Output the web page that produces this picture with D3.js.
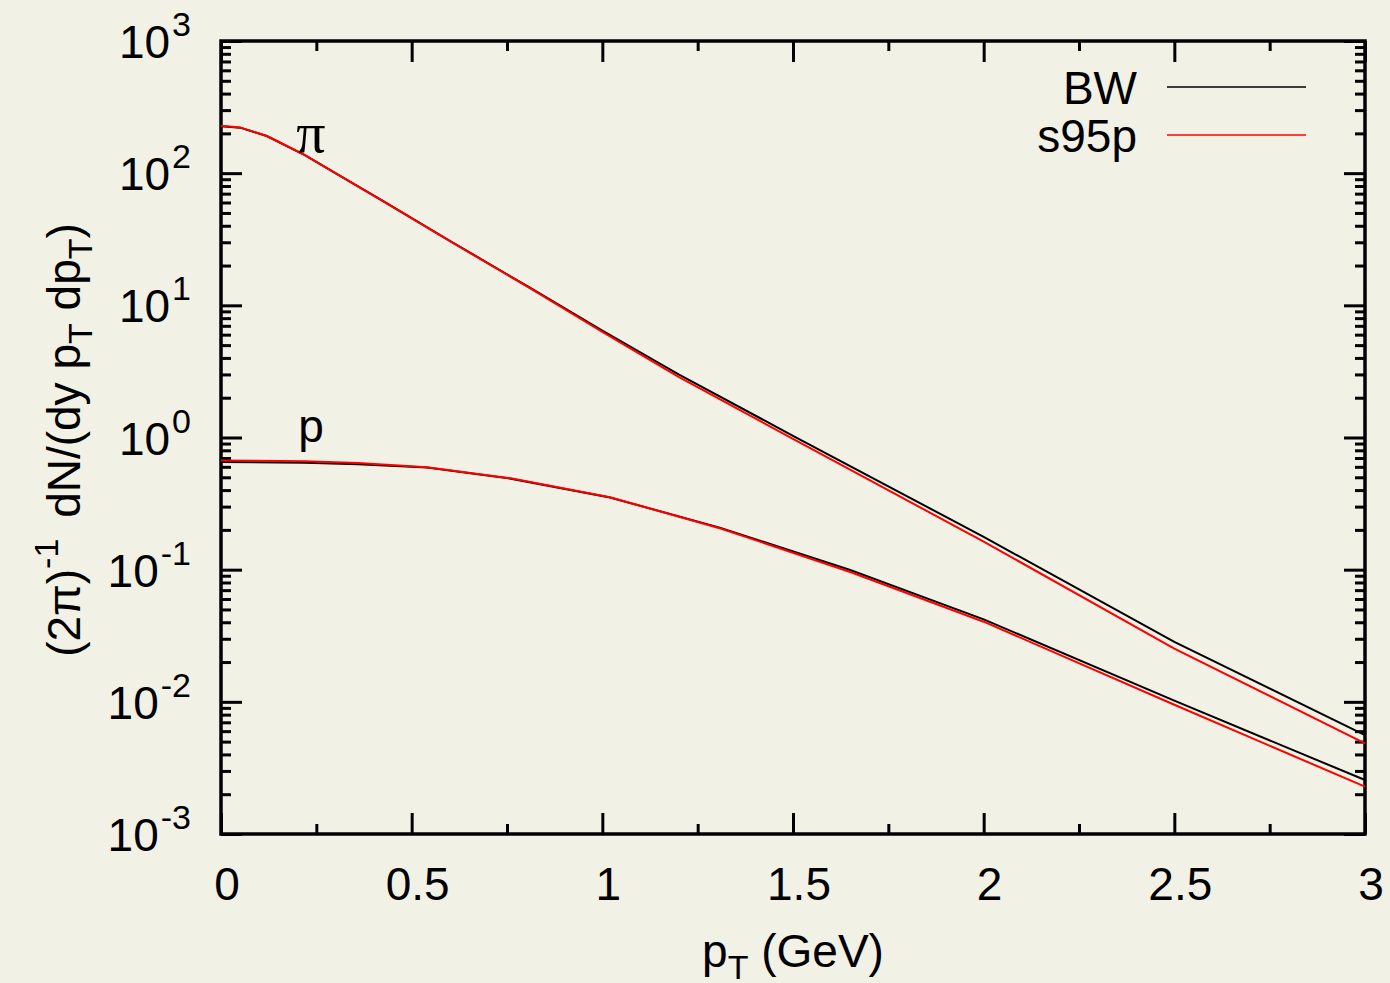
<!DOCTYPE html>
<html>
<head>
<meta charset="utf-8">
<script src="https://cdn.jsdelivr.net/npm/d3@7"></script>
<style>
  html, body { margin: 0; padding: 0; background: #f2f1e6; }
  svg { display: block; }
  text { font-family: "Liberation Sans", Arial, Helvetica, sans-serif; fill: #000; }
</style>
</head>
<body>
<svg id="chart" width="1390" height="983"></svg>
<script>
// Transverse-momentum spectra, pions and protons, two models
const pionPt   = [0, 0.05, 0.12, 0.22, 0.3, 0.42, 0.6, 0.81, 1.0, 1.2, 1.5, 2.0, 2.5, 3.0];
const pionBW   = [226, 221, 191, 137, 100, 62.7, 30.8, 13.6, 6.45, 3.0, 1.03, 0.177, 0.0284, 0.0056];
const pionS95p = [228, 222, 191, 137, 100, 62.5, 30.6, 13.5, 6.3, 2.88, 0.976, 0.163, 0.0253, 0.00485];

const protonPt   = [0, 0.22, 0.36, 0.54, 0.76, 1.02, 1.31, 1.65, 2.0, 2.5, 3.0];
const protonBW   = [0.653, 0.645, 0.628, 0.593, 0.488, 0.352, 0.207, 0.0995, 0.0421, 0.0102, 0.00256];
const protonS95p = [0.67, 0.662, 0.64, 0.596, 0.491, 0.353, 0.205, 0.096, 0.0404, 0.0095, 0.00228];

const xTicks = [0, 0.5, 1, 1.5, 2, 2.5, 3];
const xTickLabels = ["0", "0.5", "1", "1.5", "2", "2.5", "3"];
const yExponents = [-3, -2, -1, 0, 1, 2, 3];

const seriesNames = ["BW", "s95p"];
const seriesColors = ["#000000", "#ff0000"];

const svg = d3.select("#chart");
const plotL = 221, plotR = 1365, plotT = 41, plotB = 834;
const fontMain = 46, fontSmall = 34;

const x = d3.scaleLinear().domain([0, 3]).range([plotL, plotR]);
const y = d3.scaleLog().domain([1e-3, 1e3]).range([plotB, plotT]);

// minor tick positions
const xMinor = d3.range(0.25, 3, 0.5);
const yMinor = [];
for (let e = -3; e < 3; e++) for (let k = 2; k <= 9; k++) yMinor.push(k * Math.pow(10, e));
const yMajor = yExponents.map(e => Math.pow(10, e));

function tickAxis(axis, vals, len) {
  return axis.tickValues(vals).tickSize(len).tickSizeOuter(0).tickFormat("");
}
function styleAxis(g) {
  g.select(".domain").remove();
  g.selectAll(".tick line").attr("stroke", "#000").attr("stroke-width", 3);
}

// inward ticks on all four sides
svg.append("g").attr("transform", `translate(0,${plotB})`).call(tickAxis(d3.axisBottom(x), xTicks, -21)).call(styleAxis);
svg.append("g").attr("transform", `translate(0,${plotB})`).call(tickAxis(d3.axisBottom(x), xMinor, -10)).call(styleAxis);
svg.append("g").attr("transform", `translate(0,${plotT})`).call(tickAxis(d3.axisTop(x), xTicks, -21)).call(styleAxis);
svg.append("g").attr("transform", `translate(0,${plotT})`).call(tickAxis(d3.axisTop(x), xMinor, -10)).call(styleAxis);
svg.append("g").attr("transform", `translate(${plotL},0)`).call(tickAxis(d3.axisLeft(y), yMajor, -21)).call(styleAxis);
svg.append("g").attr("transform", `translate(${plotL},0)`).call(tickAxis(d3.axisLeft(y), yMinor, -10)).call(styleAxis);
svg.append("g").attr("transform", `translate(${plotR},0)`).call(tickAxis(d3.axisRight(y), yMajor, -21)).call(styleAxis);
svg.append("g").attr("transform", `translate(${plotR},0)`).call(tickAxis(d3.axisRight(y), yMinor, -10)).call(styleAxis);

// frame
svg.append("rect")
  .attr("x", plotL).attr("y", plotT)
  .attr("width", plotR - plotL).attr("height", plotB - plotT)
  .attr("fill", "none").attr("stroke", "#000").attr("stroke-width", 3.5);

// x tick labels
svg.append("g").selectAll("text").data(xTicks).join("text")
  .attr("x", d => x(d) + 6)
  .attr("y", 900)
  .attr("text-anchor", "middle")
  .attr("font-size", fontMain)
  .text((d, i) => xTickLabels[i]);

// y tick labels: 10^n
const yl = svg.append("g").selectAll("text").data(yExponents).join("text")
  .attr("x", 191)
  .attr("y", d => y(Math.pow(10, d)) + 17)
  .attr("text-anchor", "end")
  .attr("font-size", fontMain);
yl.append("tspan").text("10");
yl.append("tspan")
  .attr("dx", 2)
  .attr("dy", -22)
  .attr("font-size", fontSmall)
  .text(d => d < 0 ? "-" + (-d) : String(d));

// axis titles
const xt = svg.append("text")
  .attr("x", 793).attr("y", 967)
  .attr("text-anchor", "middle")
  .attr("font-size", fontMain);
xt.append("tspan").text("p");
xt.append("tspan").attr("dy", 12).attr("font-size", fontSmall).text("T");
xt.append("tspan").attr("dy", -12).text(" (GeV)");

const yt = svg.append("text")
  .attr("transform", "translate(80,440) rotate(-90)")
  .attr("text-anchor", "middle")
  .attr("font-size", fontMain);
yt.append("tspan").text("(2π)");
yt.append("tspan").attr("dy", -22).attr("font-size", fontSmall).text("-1");
yt.append("tspan").attr("dy", 22).attr("dx", 8).text(" dN/(dy p");
yt.append("tspan").attr("dy", 12).attr("font-size", fontSmall).text("T");
yt.append("tspan").attr("dy", -12).text(" dp");
yt.append("tspan").attr("dy", 12).attr("font-size", fontSmall).text("T");
yt.append("tspan").attr("dy", -12).text(")");

// curves
const line = d3.line().x(d => x(d[0])).y(d => y(d[1]));
const curves = [
  { pt: pionPt, v: pionBW, s: 0 },
  { pt: protonPt, v: protonBW, s: 0 },
  { pt: pionPt, v: pionS95p, s: 1 },
  { pt: protonPt, v: protonS95p, s: 1 }
];
svg.append("g").selectAll("path").data(curves).join("path")
  .attr("d", c => line(c.pt.map((p, i) => [p, c.v[i]])))
  .attr("fill", "none")
  .attr("stroke", c => seriesColors[c.s])
  .attr("stroke-width", 2);

// particle labels
svg.append("text").attr("x", 311).attr("y", 152)
  .attr("text-anchor", "middle")
  .style("font-family", "'Liberation Serif', 'Times New Roman', serif")
  .attr("font-size", 58).text("π");
svg.append("text").attr("x", 311).attr("y", 442)
  .attr("text-anchor", "middle")
  .attr("font-size", fontMain).text("p");

// legend
const lg = svg.append("g").selectAll("g").data(seriesNames).join("g")
  .attr("transform", (d, i) => `translate(0,${87 + i * 48})`);
lg.append("text").attr("x", 1137).attr("y", 17)
  .attr("text-anchor", "end").attr("font-size", fontMain).text(d => d);
lg.append("line").attr("x1", 1167).attr("x2", 1306).attr("y1", 0).attr("y2", 0)
  .attr("stroke", (d, i) => seriesColors[i]).attr("stroke-width", 1.5);
</script>
</body>
</html>
